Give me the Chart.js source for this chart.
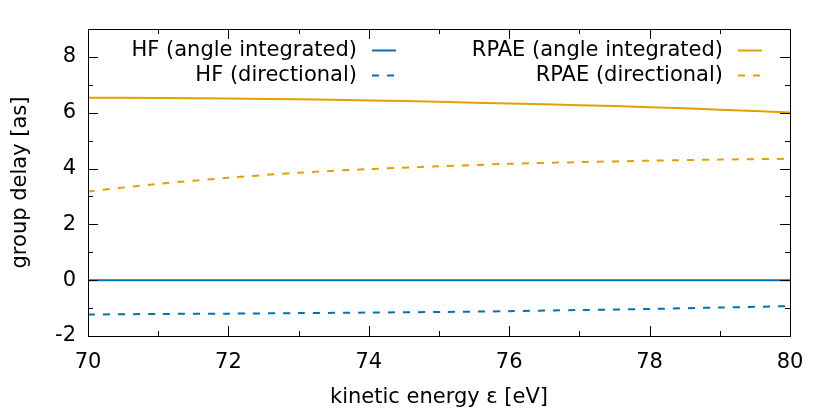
<!DOCTYPE html>
<html>
<head>
<meta charset="utf-8">
<script src="https://cdn.jsdelivr.net/npm/chart.js@4"></script>
<style>
  html, body { margin: 0; padding: 0; background: #fff; }
  #wrap { width: 830px; height: 415px; }
</style>
</head>
<body>
<div id="wrap"><canvas id="c" width="830" height="415"></canvas></div>
<script>
// kinetic energy (eV)
const energy = [70, 71, 72, 73, 74, 75, 76, 77, 78, 79, 80];
// group delays (as)
const hfAngleInt = [0, 0, 0, 0, 0, 0, 0, 0, 0, 0, 0];
const hfDirectional = [-1.23, -1.21, -1.2, -1.18, -1.16, -1.14, -1.11, -1.07, -1.03, -0.98, -0.93];
const rpaeAngleInt = [6.54, 6.53, 6.51, 6.48, 6.44, 6.39, 6.33, 6.27, 6.2, 6.11, 6.01];
const rpaeDirectional = [3.18, 3.45, 3.67, 3.85, 3.98, 4.08, 4.17, 4.23, 4.28, 4.32, 4.35];

const xTicks = [70, 72, 74, 76, 78, 80];
const yTicks = [-2, 0, 2, 4, 6, 8];

const BLUE = '#0072b2';
const ORANGE = '#e69f00';
const FONT = 'DejaVu Sans';
const DASH = [7, 8];

const pts = arr => arr.map((v, i) => ({ x: energy[i], y: v }));

// marcos, ticks hacia dentro y leyenda estilo gnuplot
const framePlugin = {
    id: 'frame',
    afterDraw(chart) {
        const ctx = chart.ctx;
        const { left, right, top, bottom } = chart.chartArea;
        const xs = chart.scales.x, ys = chart.scales.y;
        ctx.save();
        ctx.strokeStyle = '#000';
        ctx.lineWidth = 1;
        ctx.strokeRect(left + 0.5, top + 0.5, right - left, bottom - top);

        ctx.beginPath();
        for (let v = 70; v <= 80; v++) {
            const px = Math.round(xs.getPixelForValue(v)) + 0.5;
            const len = xTicks.includes(v) ? 10 : 5;
            ctx.moveTo(px, bottom); ctx.lineTo(px, bottom - len);
            ctx.moveTo(px, top); ctx.lineTo(px, top + len);
        }
        for (let v = -2; v <= 8; v++) {
            const py = Math.round(ys.getPixelForValue(v)) + 0.5;
            const len = yTicks.includes(v) ? 10 : 5;
            ctx.moveTo(left, py); ctx.lineTo(left + len, py);
            ctx.moveTo(right, py); ctx.lineTo(right - len, py);
        }
        ctx.stroke();

        // leyenda
        const items = [
            { label: 'HF (angle integrated)', color: BLUE, dash: [], tx: 357, y: 50.5 },
            { label: 'HF (directional)', color: BLUE, dash: DASH, tx: 357, y: 75.5 },
            { label: 'RPAE (angle integrated)', color: ORANGE, dash: [], tx: 723, y: 50.5 },
            { label: 'RPAE (directional)', color: ORANGE, dash: DASH, tx: 723, y: 75.5 }
        ];
        ctx.font = '21px "' + FONT + '"';
        ctx.textAlign = 'right';
        ctx.textBaseline = 'middle';
        items.forEach(it => {
            ctx.fillStyle = '#000';
            ctx.fillText(it.label, it.tx, it.y);
            ctx.strokeStyle = it.color;
            ctx.lineWidth = 2;
            ctx.setLineDash(it.dash);
            ctx.beginPath();
            ctx.moveTo(it.tx + 15, it.y);
            ctx.lineTo(it.tx + 39, it.y);
            ctx.stroke();
        });
        ctx.restore();
    }
};

new Chart(document.getElementById('c'), {
    type: 'line',
    data: {
        datasets: [
            { label: 'HF (angle integrated)', data: pts(hfAngleInt), borderColor: BLUE },
            { label: 'HF (directional)', data: pts(hfDirectional), borderColor: BLUE, borderDash: DASH },
            { label: 'RPAE (angle integrated)', data: pts(rpaeAngleInt), borderColor: ORANGE },
            { label: 'RPAE (directional)', data: pts(rpaeDirectional), borderColor: ORANGE, borderDash: DASH }
        ]
    },
    options: {
        responsive: false,
        animation: false,
        layout: { padding: { left: 0, top: 29, right: 40, bottom: 0 } },
        elements: {
            point: { radius: 0 },
            line: { borderWidth: 2, tension: 0.3, fill: false }
        },
        plugins: { legend: { display: false }, tooltip: { enabled: false } },
        scales: {
            x: {
                type: 'linear', min: 70, max: 80,
                afterFit: s => { s.height = 79; },
                grid: { display: false, drawTicks: false },
                border: { display: false },
                ticks: { stepSize: 2, padding: 14, color: '#000', font: { family: FONT, size: 21 } },
                title: { display: true, text: 'kinetic energy ε [eV]', color: '#000', padding: { top: 0, bottom: 5 }, font: { family: FONT, size: 21 } }
            },
            y: {
                type: 'linear', min: -2, max: 9,
                afterFit: s => { s.width = 88; },
                grid: { display: false, drawTicks: false },
                border: { display: false },
                ticks: {
                    stepSize: 2, includeBounds: false, padding: 12, color: '#000',
                    font: { family: FONT, size: 21 },
                    callback: v => yTicks.includes(v) ? String(v) : ''
                },
                title: { display: true, text: 'group delay [as]', color: '#000', padding: { top: 8, bottom: 0 }, font: { family: FONT, size: 21 } }
            }
        }
    },
    plugins: [framePlugin]
});
</script>
</body>
</html>
